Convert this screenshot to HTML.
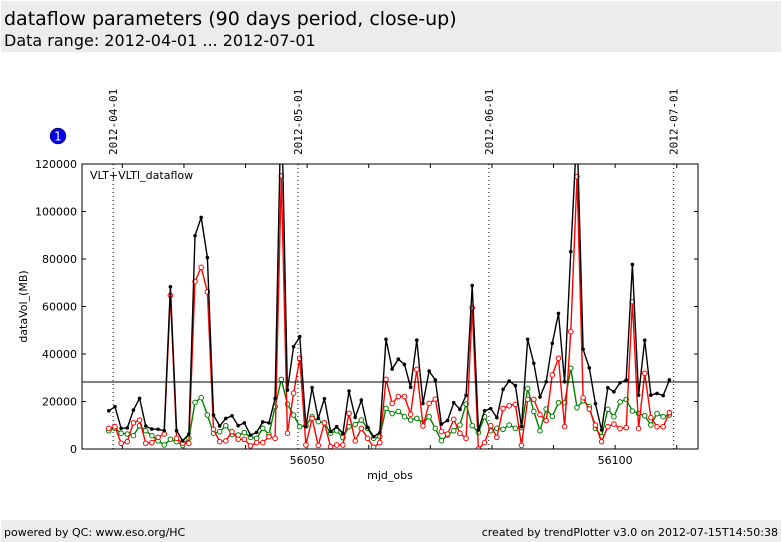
<!DOCTYPE html>
<html><head><meta charset="utf-8"><style>
html,body{margin:0;padding:0;background:#fff;width:782px;height:542px;overflow:hidden}
svg{display:block;font-family:"DejaVu Sans","Liberation Sans",sans-serif}
</style></head><body>
<svg id="chart" width="782" height="542" viewBox="0 0 782 542">
<rect x="1" y="1" width="780" height="51" fill="#ececec"/>
<text x="4" y="25" font-size="19" fill="#000">dataflow parameters (90 days period, close-up)</text>
<text x="4" y="46" font-size="16" fill="#000">Data range: 2012-04-01 ... 2012-07-01</text>
<rect x="1" y="520" width="780" height="22" fill="#ececec"/>
<text x="4" y="536" font-size="11">powered by QC: www.eso.org/HC</text>
<text x="778" y="536" font-size="11" text-anchor="end">created by trendPlotter v3.0 on 2012-07-15T14:50:38</text>
<circle cx="58" cy="136" r="8" fill="#0000ee" stroke="#000" stroke-width="0.5"/>
<text x="58" y="140.5" font-size="12" fill="#fff" text-anchor="middle">1</text>
<g id="plot"></g>
</svg>
<script>
const mjdStart = 56017.8;
const blackVals = [16100,17800,8700,8900,16400,21300,9700,8400,8300,7700,68300,7700,3400,6300,89800,97500,80600,14300,9700,12900,14000,9800,11000,5800,7000,11400,11000,21300,150000,24800,43100,47300,9400,25800,12900,21200,7300,9400,6600,24400,13300,20600,9000,5200,6900,46200,33700,37800,35600,26000,45800,19200,32800,29100,10500,12000,19500,16700,22600,68800,8000,16100,17000,13200,25100,28600,26700,9400,46200,36100,21900,28300,44500,57100,28300,83100,135000,42000,34200,19100,8000,25800,24100,27900,29100,77700,22700,45800,22700,23400,22500,29100];
const redVals = [8700,9400,2400,3100,11000,12200,2400,2700,4900,6300,64700,4500,2400,2400,70500,76500,66200,8300,3100,3400,7300,4100,4100,1300,2700,2700,5200,4500,115000,6600,23500,38200,1700,12900,1500,11000,1000,1700,1700,15000,3400,8700,4500,700,2700,29300,19200,22100,22100,14600,33500,9700,19200,21000,7300,6300,12500,6600,4500,59500,0,2700,9800,4900,17100,18200,18800,1500,20900,20900,14500,12000,31200,38200,9400,49400,114700,21600,16800,10100,3100,9400,10500,8600,9000,62000,8600,31900,13200,9400,9400,15300];
const greenVals = [7700,8700,6600,6300,5600,9800,7700,5600,3400,1700,4100,3100,1500,4500,19600,21600,14300,6600,7300,9800,6100,5900,6900,4900,4500,8700,6100,17800,29300,18900,14300,9400,9800,13600,11500,11000,6600,7700,4800,9400,10300,12200,8700,4500,5200,17100,14900,15800,13600,12200,12900,11000,13600,8700,3500,5900,7700,10100,18900,9800,6900,13600,7700,8700,8300,10100,8700,9000,25500,15800,7700,16800,13700,19500,19500,34000,17400,20300,17800,8700,5200,16700,13600,19800,20900,16000,15000,14000,10100,14900,13600,14300];
const refLine = 28200;
const yTicks = [0,20000,40000,60000,80000,100000,120000];
const xTickLabels = [56050,56100];
const dateLabels = ["2012-04-01","2012-05-01","2012-06-01","2012-07-01"];
const dateMjd = [56018.5,56048.5,56079.5,56109.5];

const L=82,R=698,T=164,B=449;
const xMin=56013.45,xMax=56113.45,yMin=0,yMax=120000;
const sx=m=>L+(m-xMin)/(xMax-xMin)*(R-L);
const sy=v=>B-(v-yMin)/(yMax-yMin)*(B-T);
const NS="http://www.w3.org/2000/svg";
const g=document.getElementById('plot');
function mk(t,a,p){const e=document.createElementNS(NS,t);for(const k in a)e.setAttribute(k,a[k]);(p||g).appendChild(e);return e;}

const defs=mk('defs',{});
const cp=mk('clipPath',{id:'clip'},defs);
mk('rect',{x:L,y:T,width:R-L,height:B-T},cp);

dateMjd.forEach((m,i)=>{
  const x=sx(m);
  const ln=mk('line',{x1:x,x2:x,y1:T,y2:B,stroke:'#000','stroke-width':1,'stroke-dasharray':'1,3'});
  
  
  const t=mk('text',{x:0,y:0,'font-size':11,'font-family':'"DejaVu Sans Mono","Liberation Mono",monospace',transform:`translate(${x+4},155) rotate(-90)`});
  t.textContent=dateLabels[i];
  
  
});

for(let m=56020;m<=56110;m+=10){
  const x=sx(m);
  mk('line',{x1:x,x2:x,y1:B,y2:B-4,stroke:'#000'});
  mk('line',{x1:x,x2:x,y1:T,y2:T+4,stroke:'#000'});
}
xTickLabels.forEach(v=>{
  const t=mk('text',{x:sx(v),y:B+15,'font-size':11,'text-anchor':'middle'});
  t.textContent=v;
  
  
});
yTicks.forEach(v=>{
  const y=sy(v);
  mk('line',{x1:L,x2:L+4,y1:y,y2:y,stroke:'#000'});
  mk('line',{x1:R,x2:R-4,y1:y,y2:y,stroke:'#000'});
  const t=mk('text',{x:L-5,y:y+4,'font-size':11,'text-anchor':'end'});
  t.textContent=v;
  
  
});
const xt=mk('text',{x:(L+R)/2,y:479,'font-size':11,'text-anchor':'middle'});
xt.textContent='mjd_obs';


const yt=mk('text',{x:0,y:0,'font-size':11,'text-anchor':'middle',transform:`translate(27,${(T+B)/2}) rotate(-90)`});
yt.textContent='dataVol_(MB)';



const series=[[greenVals,'#008000','green'],[redVals,'#ff0000','red'],[blackVals,'#000000','black']];
series.forEach(([vals,col,nm])=>{
  const sg=mk('g',{'clip-path':'url(#clip)'});
  
  
  const pts=vals.map((v,i)=>sx(mjdStart+i).toFixed(1)+','+sy(v).toFixed(1)).join(' ');
  mk('polyline',{points:pts,fill:'none',stroke:col,'stroke-width':1.4},sg);
  vals.forEach((v,i)=>{
    let c;
    if(nm==='black') c=mk('circle',{cx:sx(mjdStart+i),cy:sy(v),r:1.8,fill:'#000'},sg);
    else c=mk('circle',{cx:sx(mjdStart+i),cy:sy(v),r:2.3,fill:'#fff',stroke:col,'stroke-width':1},sg);
    
    
  });
});
const rl=mk('line',{x1:L,x2:R,y1:sy(refLine),y2:sy(refLine),stroke:'#000','stroke-width':1});


const fr=mk('rect',{x:L,y:T,width:R-L,height:B-T,fill:'none',stroke:'#000','stroke-width':1});


const lb=mk('text',{x:L+8,y:T+15,'font-size':11});
lb.textContent='VLT+VLTI_dataflow';


</script>
</body></html>
